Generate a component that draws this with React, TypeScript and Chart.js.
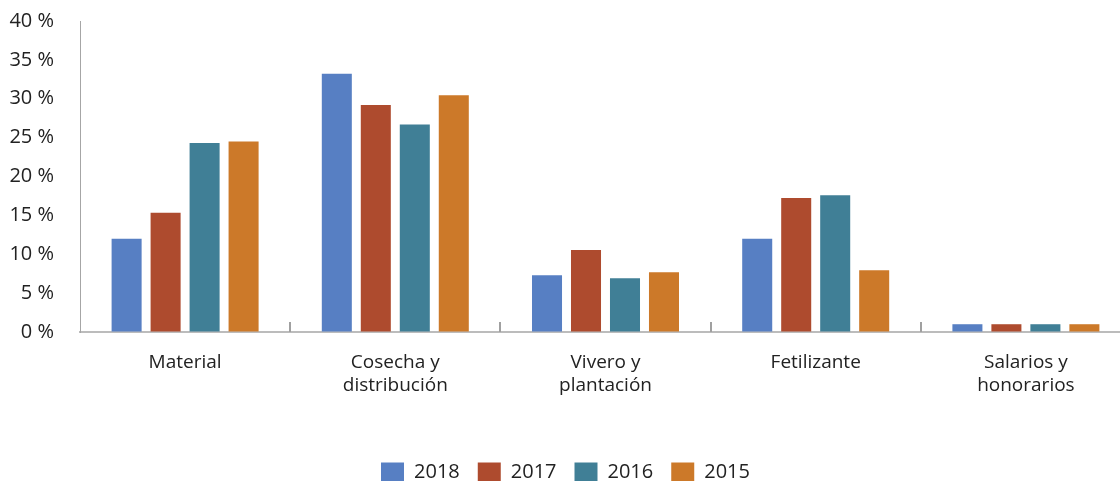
import React, { useEffect, useRef } from "react";
import { Chart, registerables } from "chart.js";

Chart.register(...registerables);

const categories: (string | string[])[] = [
  "Material",
  ["Cosecha y", "distribución"],
  ["Vivero y", "plantación"],
  "Fetilizante",
  ["Salarios y", "honorarios"],
];
const seriesNames = ["2018", "2017", "2016", "2015"];
const values2018 = [12.0, 33.2, 7.3, 12.0, 1.0];
const values2017 = [15.35, 29.2, 10.55, 17.25, 1.0];
const values2016 = [24.3, 26.7, 6.9, 17.6, 1.0];
const values2015 = [24.5, 30.45, 7.7, 7.95, 1.0];
const yTicks = [0, 5, 10, 15, 20, 25, 30, 35, 40];

const colors = ["#577FC3", "#AE4B2E", "#407F96", "#CC7929"];
const FONT = "'Open Sans', 'DejaVu Sans', sans-serif";
const TEXT = "#222222";

const tickPlugin = {
  id: "catTicks",
  afterDraw(chart: any) {
    const x = chart.scales.x;
    const area = chart.chartArea;
    const ctx = chart.ctx;
    ctx.save();
    ctx.strokeStyle = "#a0a0a0";
    ctx.lineWidth = 2;
    const n = chart.data.labels.length;
    for (let i = 1; i <= n; i++) {
      const px = Math.round(x.getPixelForValue(i - 0.5));
      ctx.beginPath();
      ctx.moveTo(px, area.bottom - 10);
      ctx.lineTo(px, area.bottom);
      ctx.stroke();
    }
    ctx.restore();
  },
};

export default function App() {
  const ref = useRef<HTMLCanvasElement | null>(null);
  useEffect(() => {
    if (!ref.current) return;
    const data = [values2018, values2017, values2016, values2015];
    const chart = new Chart(ref.current, {
      type: "bar",
      data: {
        labels: categories,
        datasets: seriesNames.map((name, i) => ({
          label: name,
          data: data[i],
          backgroundColor: colors[i],
          borderWidth: 0,
          categoryPercentage: 0.742,
          barPercentage: 0.77,
        })),
      },
      options: {
        responsive: false,
        animation: false,
        devicePixelRatio: 1,
        layout: { padding: { top: 21, right: 9, left: 0, bottom: 0 } },
        plugins: {
          tooltip: { enabled: false },
          legend: {
            position: "bottom",
            align: "center",
            labels: {
              boxWidth: 23,
              boxHeight: 19,
              padding: 18,
              color: TEXT,
              font: { family: FONT, size: 20 },
            },
          },
        },
        scales: {
          x: {
            offset: true,
            grid: { display: false, drawTicks: false },
            border: { display: true, color: "#bcbcbc", width: 2 },
            ticks: {
              color: TEXT,
              padding: 19,
              maxRotation: 0,
              autoSkip: false,
              font: { family: FONT, size: 19, lineHeight: 1.2 },
            },
            afterFit(scale: any) {
              scale.height = 112;
            },
          },
          y: {
            min: 0,
            max: 40,
            afterBuildTicks(scale: any) {
              scale.ticks = yTicks.map((v) => ({ value: v }));
            },
            grid: {
              display: true,
              drawOnChartArea: false,
              drawTicks: true,
              tickLength: 26,
              color: "rgba(0,0,0,0)",
            },
            border: { display: true, color: "#a6a6a6", width: 1 },
            ticks: {
              color: TEXT,
              padding: 0,
              font: { family: FONT, size: 20 },
              callback: (v: any) => `${v} %`,
            },
            afterFit(scale: any) {
              scale.width = 80;
            },
          },
        },
      },
      plugins: [tickPlugin],
    });
    return () => chart.destroy();
  }, []);
  return (
    <div
      style={{
        position: "fixed",
        left: 0,
        top: 0,
        width: 1120,
        height: 481,
        overflow: "hidden",
        background: "#fff",
      }}
    >
      <canvas ref={ref} width={1140} height={492} style={{ display: "block" }} />
    </div>
  );
}
